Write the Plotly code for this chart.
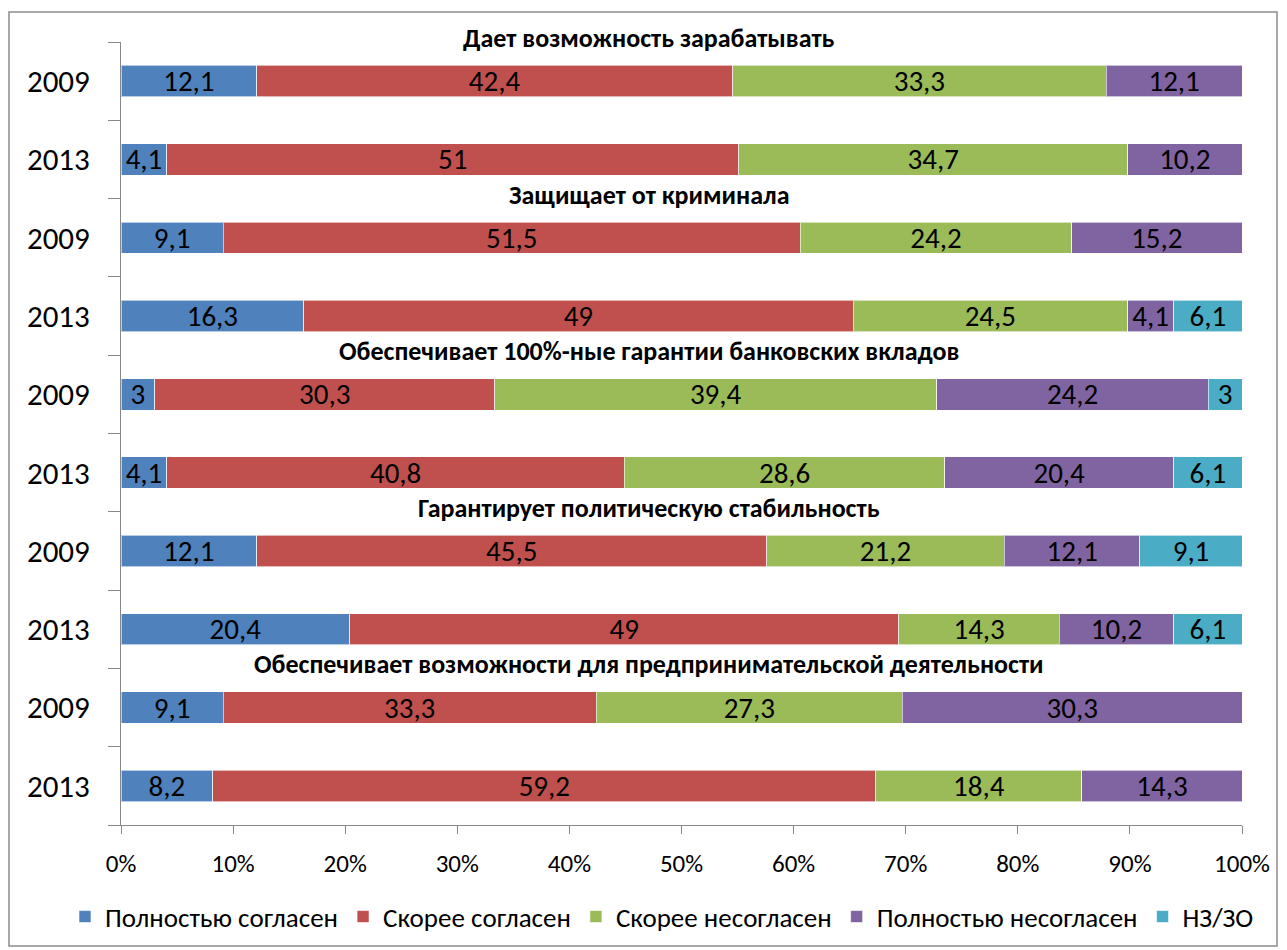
import plotly.graph_objects as go

series_names = ["Полностью согласен", "Скорее согласен", "Скорее несогласен",
                "Полностью несогласен", "НЗ/ЗО"]
colors = ["#4F81BD", "#C0504D", "#9BBB59", "#8064A2", "#4BACC6"]

year_labels = ["2009", "2013", "2009", "2013", "2009", "2013", "2009", "2013", "2009", "2013"]

group_titles = ["Дает возможность зарабатывать",
                "Защищает от криминала",
                "Обеспечивает 100%-ные гарантии банковских вкладов",
                "Гарантирует политическую стабильность",
                "Обеспечивает возможности для предпринимательской деятельности"]

full_agree = [12.1, 4.1, 9.1, 16.3, 3, 4.1, 12.1, 20.4, 9.1, 8.2]
rather_agree = [42.4, 51, 51.5, 49, 30.3, 40.8, 45.5, 49, 33.3, 59.2]
rather_disagree = [33.3, 34.7, 24.2, 24.5, 39.4, 28.6, 21.2, 14.3, 27.3, 18.4]
full_disagree = [12.1, 10.2, 15.2, 4.1, 24.2, 20.4, 12.1, 10.2, 30.3, 14.3]
nz_zo = [0, 0, 0, 6.1, 3, 6.1, 9.1, 6.1, 0, 0]

all_series = [full_agree, rather_agree, rather_disagree, full_disagree, nz_zo]

FONT = "Carlito, Calibri, Roboto, sans-serif"

def fmt(v):
    if v == 0:
        return ""
    return ("%g" % v).replace(".", ",")

ypos = list(range(len(year_labels)))

# figure geometry (page has an 8px body margin)
W, H = 1279, 942
GAP = 21                      # extra space between x axis line and its labels
L, R, T = 113, 45, 34
AXIS_BOTTOM = 817             # y of the x axis line (figure px)
B = H - AXIS_BOTTOM - GAP
pw, ph = W - L - R, H - T - B
d = GAP / ph

fig = go.Figure()
for name, vals, col in zip(series_names, all_series, colors):
    fig.add_trace(go.Bar(
        y=ypos, x=vals, name=name, orientation="h",
        marker=dict(color=col, line=dict(color="rgba(255,255,255,0.6)", width=1)),
        text=[fmt(v) for v in vals],
        textposition="inside", insidetextanchor="middle", textangle=0,
        textfont=dict(color="black", size=29, family=FONT),
        hoverinfo="x+name",
    ))

# invisible trace that carries the label axis
fig.add_trace(go.Scatter(x=[0, 100], y=[0, 0], xaxis="x2", mode="markers",
                         marker=dict(opacity=0), showlegend=False, hoverinfo="skip"))

fig.update_layout(
    width=W, height=H,
    barmode="stack", barnorm="percent", bargap=0.6,
    plot_bgcolor="white", paper_bgcolor="white",
    margin=dict(l=L, r=R, t=T, b=B, autoexpand=False),
    font=dict(family=FONT, color="black"),
    uniformtext=dict(minsize=29, mode="show"),
    legend=dict(orientation="h", x=(57 - L) / pw, xanchor="left",
                y=-(909 - (T + ph)) / ph, yanchor="middle",
                font=dict(size=27, family=FONT), traceorder="normal",
                itemwidth=30),
    showlegend=True,
    xaxis=dict(range=[0, 100], dtick=10, showgrid=False, showticklabels=False,
               showline=True, linecolor="#888888", linewidth=1,
               ticks="outside", ticklen=8, tickcolor="#888888", zeroline=False),
    xaxis2=dict(range=[0, 100], dtick=10, ticksuffix="%", overlaying="x",
                anchor="free", position=0, showgrid=False, showline=False,
                ticks="", tickfont=dict(size=25, family=FONT), zeroline=False),
    yaxis=dict(domain=[d, 1], range=[9.5, -0.5], tickvals=ypos, ticktext=year_labels,
               showgrid=False, showline=True, linecolor="#888888", linewidth=1,
               ticks="", tickfont=dict(size=31, family=FONT), ticklabelstandoff=24,
               zeroline=False,
               minor=dict(tickvals=[i - 0.5 for i in range(11)], ticks="outside",
                          ticklen=12, tickcolor="#888888", showgrid=False)),
)

for i, t in enumerate(group_titles):
    fig.add_annotation(text="<b>" + t + "</b>", xref="paper", x=(641 - L) / pw,
                       yref="y", y=2 * i - 0.5, showarrow=False, yanchor="middle",
                       yshift=4, font=dict(size=26, family=FONT, color="black"))

# outer border
fig.add_shape(type="rect", xref="paper", yref="paper",
              x0=(1 - L) / pw, x1=(1269 - L) / pw,
              y0=-(938 - (T + ph)) / ph, y1=(T + ph - 4) / ph,
              line=dict(color="#8c8c8c", width=1.5), fillcolor="rgba(0,0,0,0)", layer="below")

fig.write_html("out.html")
